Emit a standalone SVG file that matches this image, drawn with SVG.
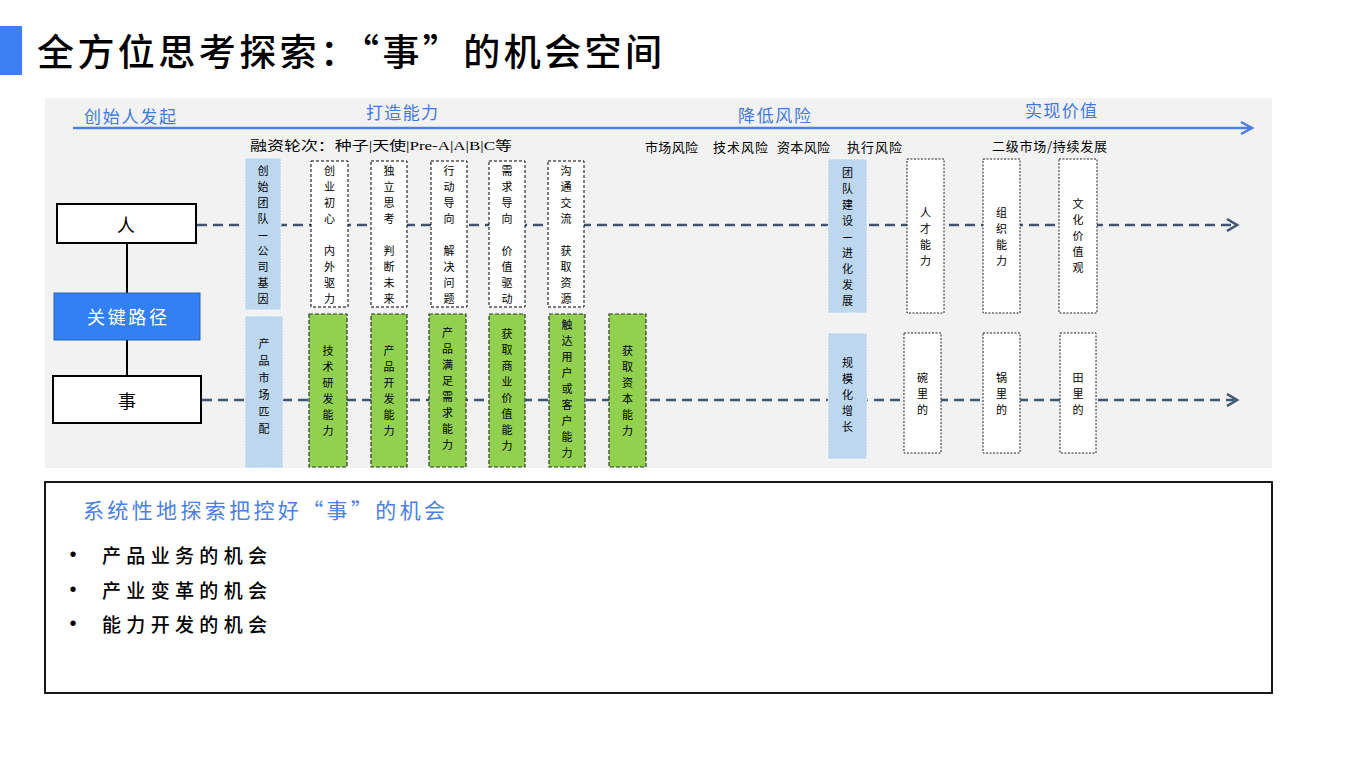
<svg xmlns="http://www.w3.org/2000/svg" width="1348" height="759" viewBox="0 0 1348 759">
<style>
text{font-family:"Noto Sans CJK SC","Noto Sans",sans-serif;fill:#000}
.lat{font-family:"Liberation Serif","Noto Sans CJK SC",serif}
.v{font-size:11px;text-anchor:middle;dominant-baseline:central}
.hdr{font-size:17px;fill:#4279e0;dominant-baseline:central}
.sub{font-size:13px;dominant-baseline:central}
.bul{font-family:"Liberation Sans",Arial,sans-serif;font-size:20px;text-anchor:middle;dominant-baseline:central}
.blue{fill:#bdd7ee;stroke:#ffffff;stroke-width:1;stroke-dasharray:1.5 1.5}
.wd{fill:#ffffff;stroke:#000;stroke-width:1;stroke-dasharray:3 2}
.wd2{fill:#ffffff;stroke:#222;stroke-width:1;stroke-dasharray:2 1.5}
.gr{fill:#92d050;stroke:#2f3a28;stroke-width:1.2;stroke-dasharray:4 2}
.solid{fill:#ffffff;stroke:#000;stroke-width:2}
.dash{stroke:#3f5573;stroke-width:2.6;stroke-dasharray:10 6;fill:none}
</style>
<rect x="0" y="0" width="1348" height="759" fill="#ffffff"/>
<g id="title">
<rect x="0" y="26" width="22" height="49" fill="#3b7ff2"/>
<text x="37" y="50" font-size="37" font-weight="500" dominant-baseline="central" textLength="625" lengthAdjust="spacing">全方位思考探索：“事”的机会空间</text>
</g>
<rect id="panel" x="45" y="98" width="1227" height="370" fill="#f2f2f2"/>
<g id="timeline">
<line x1="73" y1="128" x2="1251" y2="128" stroke="#4a80e4" stroke-width="2.5"/>
<path d="M1241,122 L1252,128 L1241,134" fill="none" stroke="#4a80e4" stroke-width="2.5"/>
<text class="hdr" x="84" y="115" textLength="92" lengthAdjust="spacing">创始人发起</text>
<text class="hdr" x="366" y="111" textLength="72" lengthAdjust="spacing">打造能力</text>
<text class="hdr" x="738" y="114" textLength="73" lengthAdjust="spacing">降低风险</text>
<text class="hdr" x="1025" y="109" textLength="72" lengthAdjust="spacing">实现价值</text>
<text class="sub lat" x="250" y="145" textLength="262" lengthAdjust="spacingAndGlyphs">融资轮次：种子|天使|Pre-A|A|B|C等</text>
<text class="sub" x="645" y="146" textLength="53" lengthAdjust="spacing">市场风险</text>
<text class="sub" x="713" y="146" textLength="55" lengthAdjust="spacing">技术风险</text>
<text class="sub" x="777" y="146" textLength="53" lengthAdjust="spacing">资本风险</text>
<text class="sub" x="847" y="146" textLength="55" lengthAdjust="spacing">执行风险</text>
<text class="sub" x="992" y="145" textLength="115" lengthAdjust="spacing">二级市场/持续发展</text>
</g>
<g id="connectors">
<line x1="127" y1="244" x2="127" y2="293" stroke="#000" stroke-width="2"/>
<line x1="127" y1="340" x2="127" y2="376" stroke="#000" stroke-width="2"/>
<line class="dash" x1="197" y1="225" x2="1234" y2="225"/>
<path d="M1227,219 L1237,225 L1227,231" fill="none" stroke="#3f5573" stroke-width="2.6"/>
<line class="dash" x1="202" y1="400" x2="1234" y2="400"/>
<path d="M1227,394 L1237,400 L1227,406" fill="none" stroke="#3f5573" stroke-width="2.6"/>
</g>
<g id="node-ren">
<rect class="solid" x="57" y="204" width="139" height="39"/>
<text x="126" y="224" font-size="18" text-anchor="middle" dominant-baseline="central">人</text>
</g>
<g id="node-path">
<rect x="54" y="293" width="146" height="47" fill="#3380f4" stroke="#2a62b8" stroke-width="1"/>
<text x="127" y="316" font-size="18" text-anchor="middle" dominant-baseline="central" style="fill:#ffffff" textLength="80" lengthAdjust="spacing">关键路径</text>
</g>
<g id="node-shi">
<rect class="solid" x="53" y="376" width="148" height="47"/>
<text x="127" y="400" font-size="18" text-anchor="middle" dominant-baseline="central">事</text>
</g>
<g id="col-founder">
<rect class="blue" x="245" y="158" width="36" height="152"/>
<text class="v"><tspan x="263" y="170">创</tspan><tspan x="263" y="186">始</tspan><tspan x="263" y="202">团</tspan><tspan x="263" y="218">队</tspan><tspan x="263" y="234" font-weight="bold">—</tspan><tspan x="263" y="250">公</tspan><tspan x="263" y="266">司</tspan><tspan x="263" y="282">基</tspan><tspan x="263" y="298">因</tspan></text>
</g>
<g id="col-pmf">
<rect class="blue" x="245" y="316" width="38" height="152"/>
<text class="v"><tspan x="264" y="343">产</tspan><tspan x="264" y="360">品</tspan><tspan x="264" y="377">市</tspan><tspan x="264" y="394">场</tspan><tspan x="264" y="411">匹</tspan><tspan x="264" y="428">配</tspan></text>
</g>
<g id="w1">
<rect class="wd" x="311" y="161" width="37" height="146"/>
<text class="v"><tspan x="329.5" y="170">创</tspan><tspan x="329.5" y="186">业</tspan><tspan x="329.5" y="202">初</tspan><tspan x="329.5" y="218">心</tspan><tspan x="329.5" y="250">内</tspan><tspan x="329.5" y="266">外</tspan><tspan x="329.5" y="282">驱</tspan><tspan x="329.5" y="298">力</tspan></text>
</g>
<g id="w2">
<rect class="wd" x="371" y="161" width="36" height="146"/>
<text class="v"><tspan x="389" y="170">独</tspan><tspan x="389" y="186">立</tspan><tspan x="389" y="202">思</tspan><tspan x="389" y="218">考</tspan><tspan x="389" y="250">判</tspan><tspan x="389" y="266">断</tspan><tspan x="389" y="282">未</tspan><tspan x="389" y="298">来</tspan></text>
</g>
<g id="w3">
<rect class="wd" x="431" y="161" width="36" height="146"/>
<text class="v"><tspan x="449" y="170">行</tspan><tspan x="449" y="186">动</tspan><tspan x="449" y="202">导</tspan><tspan x="449" y="218">向</tspan><tspan x="449" y="250">解</tspan><tspan x="449" y="266">决</tspan><tspan x="449" y="282">问</tspan><tspan x="449" y="298">题</tspan></text>
</g>
<g id="w4">
<rect class="wd" x="489" y="161" width="36" height="146"/>
<text class="v"><tspan x="507" y="170">需</tspan><tspan x="507" y="186">求</tspan><tspan x="507" y="202">导</tspan><tspan x="507" y="218">向</tspan><tspan x="507" y="250">价</tspan><tspan x="507" y="266">值</tspan><tspan x="507" y="282">驱</tspan><tspan x="507" y="298">动</tspan></text>
</g>
<g id="w5">
<rect class="wd" x="548" y="161" width="36" height="146"/>
<text class="v"><tspan x="566" y="170">沟</tspan><tspan x="566" y="186">通</tspan><tspan x="566" y="202">交</tspan><tspan x="566" y="218">流</tspan><tspan x="566" y="250">获</tspan><tspan x="566" y="266">取</tspan><tspan x="566" y="282">资</tspan><tspan x="566" y="298">源</tspan></text>
</g>
<g id="g1">
<rect class="gr" x="309" y="314" width="38" height="153"/>
<text class="v"><tspan x="328" y="350">技</tspan><tspan x="328" y="366">术</tspan><tspan x="328" y="382">研</tspan><tspan x="328" y="398">发</tspan><tspan x="328" y="414">能</tspan><tspan x="328" y="430">力</tspan></text>
</g>
<g id="g2">
<rect class="gr" x="371" y="314" width="36" height="153"/>
<text class="v"><tspan x="389" y="350">产</tspan><tspan x="389" y="366">品</tspan><tspan x="389" y="382">开</tspan><tspan x="389" y="398">发</tspan><tspan x="389" y="414">能</tspan><tspan x="389" y="430">力</tspan></text>
</g>
<g id="g3">
<rect class="gr" x="429" y="314" width="37" height="153"/>
<text class="v"><tspan x="447.5" y="332">产</tspan><tspan x="447.5" y="348">品</tspan><tspan x="447.5" y="364">满</tspan><tspan x="447.5" y="380">足</tspan><tspan x="447.5" y="396">需</tspan><tspan x="447.5" y="412">求</tspan><tspan x="447.5" y="428">能</tspan><tspan x="447.5" y="444">力</tspan></text>
</g>
<g id="g4">
<rect class="gr" x="489" y="314" width="36" height="153"/>
<text class="v"><tspan x="507" y="333">获</tspan><tspan x="507" y="349">取</tspan><tspan x="507" y="365">商</tspan><tspan x="507" y="381">业</tspan><tspan x="507" y="397">价</tspan><tspan x="507" y="413">值</tspan><tspan x="507" y="429">能</tspan><tspan x="507" y="445">力</tspan></text>
</g>
<g id="g5">
<rect class="gr" x="549" y="314" width="36" height="153"/>
<text class="v"><tspan x="567" y="324">触</tspan><tspan x="567" y="340">达</tspan><tspan x="567" y="356">用</tspan><tspan x="567" y="372">户</tspan><tspan x="567" y="388">或</tspan><tspan x="567" y="404">客</tspan><tspan x="567" y="420">户</tspan><tspan x="567" y="436">能</tspan><tspan x="567" y="452">力</tspan></text>
</g>
<g id="g6">
<rect class="gr" x="609" y="314" width="37" height="153"/>
<text class="v"><tspan x="627.5" y="350">获</tspan><tspan x="627.5" y="366">取</tspan><tspan x="627.5" y="382">资</tspan><tspan x="627.5" y="398">本</tspan><tspan x="627.5" y="414">能</tspan><tspan x="627.5" y="430">力</tspan></text>
</g>
<g id="col-team">
<rect class="blue" x="828" y="159" width="39" height="154"/>
<text class="v"><tspan x="847.5" y="172">团</tspan><tspan x="847.5" y="188">队</tspan><tspan x="847.5" y="204">建</tspan><tspan x="847.5" y="220">设</tspan><tspan x="847.5" y="236" font-weight="bold">—</tspan><tspan x="847.5" y="252">进</tspan><tspan x="847.5" y="268">化</tspan><tspan x="847.5" y="284">发</tspan><tspan x="847.5" y="300">展</tspan></text>
</g>
<g id="col-scale">
<rect class="blue" x="828" y="333" width="39" height="126"/>
<text class="v"><tspan x="847.5" y="362">规</tspan><tspan x="847.5" y="378">模</tspan><tspan x="847.5" y="394">化</tspan><tspan x="847.5" y="410">增</tspan><tspan x="847.5" y="426">长</tspan></text>
</g>
<g id="r1">
<rect class="wd2" x="907" y="159" width="37" height="154"/>
<text class="v"><tspan x="925.5" y="212">人</tspan><tspan x="925.5" y="228">才</tspan><tspan x="925.5" y="244">能</tspan><tspan x="925.5" y="260">力</tspan></text>
</g>
<g id="r2">
<rect class="wd2" x="983" y="159" width="37" height="154"/>
<text class="v"><tspan x="1001.5" y="212">组</tspan><tspan x="1001.5" y="228">织</tspan><tspan x="1001.5" y="244">能</tspan><tspan x="1001.5" y="260">力</tspan></text>
</g>
<g id="r3">
<rect class="wd2" x="1059" y="159" width="38" height="154"/>
<text class="v"><tspan x="1078" y="203">文</tspan><tspan x="1078" y="219">化</tspan><tspan x="1078" y="235">价</tspan><tspan x="1078" y="251">值</tspan><tspan x="1078" y="267">观</tspan></text>
</g>
<g id="s1">
<rect class="wd2" x="904" y="333" width="37" height="120"/>
<text class="v"><tspan x="922.5" y="377">碗</tspan><tspan x="922.5" y="393">里</tspan><tspan x="922.5" y="409">的</tspan></text>
</g>
<g id="s2">
<rect class="wd2" x="983" y="333" width="37" height="120"/>
<text class="v"><tspan x="1001.5" y="377">锅</tspan><tspan x="1001.5" y="393">里</tspan><tspan x="1001.5" y="409">的</tspan></text>
</g>
<g id="s3">
<rect class="wd2" x="1060" y="333" width="36" height="120"/>
<text class="v"><tspan x="1078" y="377">田</tspan><tspan x="1078" y="393">里</tspan><tspan x="1078" y="409">的</tspan></text>
</g>
<g id="summary">
<rect x="45" y="482" width="1227" height="211" fill="#ffffff" stroke="#000" stroke-width="1.8"/>
<text x="83" y="509" font-size="21" dominant-baseline="central" style="fill:#4a80e4" textLength="362" lengthAdjust="spacing">系统性地探索把控好“事”的机会</text>
<text class="bul" x="73" y="554">•</text>
<text x="102" y="554" font-size="19" font-weight="500" dominant-baseline="central" textLength="165" lengthAdjust="spacing">产品业务的机会</text>
<text class="bul" x="73" y="589">•</text>
<text x="102" y="589" font-size="19" font-weight="500" dominant-baseline="central" textLength="165" lengthAdjust="spacing">产业变革的机会</text>
<text class="bul" x="73" y="623">•</text>
<text x="102" y="623" font-size="19" font-weight="500" dominant-baseline="central" textLength="165" lengthAdjust="spacing">能力开发的机会</text>
</g>
</svg>
